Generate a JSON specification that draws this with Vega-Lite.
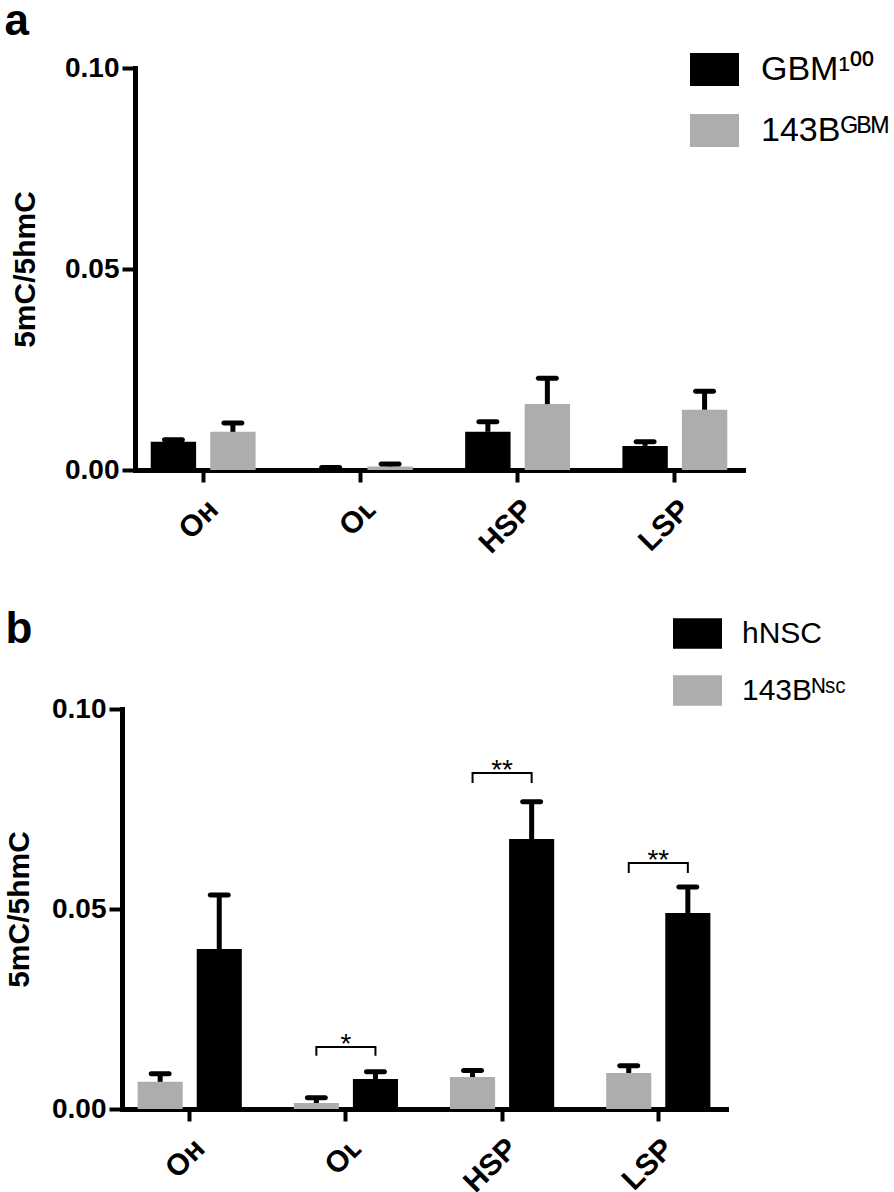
{
  "$schema": "https://vega.github.io/schema/vega-lite/v6.json",
  "padding": {"left": 4, "top": 0, "right": 0, "bottom": 0},
  "columns": 1,
  "center": true,
  "datasets": {
    "a": [
      {"cat": "Oʜ", "grp": "GBM¹⁰⁰", "mean": 0.0070, "upper": 0.0075},
      {"cat": "Oʜ", "grp": "143Bᴳᴮᴹ", "mean": 0.0095, "upper": 0.0117},
      {"cat": "Oʟ", "grp": "GBM¹⁰⁰", "mean": 0.0005, "upper": 0.0006},
      {"cat": "Oʟ", "grp": "143Bᴳᴮᴹ", "mean": 0.0009, "upper": 0.0015},
      {"cat": "HSP", "grp": "GBM¹⁰⁰", "mean": 0.0095, "upper": 0.0120},
      {"cat": "HSP", "grp": "143Bᴳᴮᴹ", "mean": 0.0164, "upper": 0.0228},
      {"cat": "LSP", "grp": "GBM¹⁰⁰", "mean": 0.0060, "upper": 0.0070},
      {"cat": "LSP", "grp": "143Bᴳᴮᴹ", "mean": 0.0150, "upper": 0.0196}
    ],
    "b": [
      {"cat": "Oʜ", "grp": "143Bᴺˢᶜ", "mean": 0.0068, "upper": 0.0088},
      {"cat": "Oʜ", "grp": "hNSC", "mean": 0.0400, "upper": 0.0535},
      {"cat": "Oʟ", "grp": "143Bᴺˢᶜ", "mean": 0.0015, "upper": 0.0028},
      {"cat": "Oʟ", "grp": "hNSC", "mean": 0.0075, "upper": 0.0093},
      {"cat": "HSP", "grp": "143Bᴺˢᶜ", "mean": 0.0080, "upper": 0.0096},
      {"cat": "HSP", "grp": "hNSC", "mean": 0.0675, "upper": 0.0768},
      {"cat": "LSP", "grp": "143Bᴺˢᶜ", "mean": 0.0090, "upper": 0.0108},
      {"cat": "LSP", "grp": "hNSC", "mean": 0.0490, "upper": 0.0555}
    ],
    "brackets": [
      {"cat": "Oʟ", "grp": "143Bᴺˢᶜ", "y": 0.0133, "ord": 1},
      {"cat": "Oʟ", "grp": "143Bᴺˢᶜ", "y": 0.0155, "ord": 2},
      {"cat": "Oʟ", "grp": "hNSC", "y": 0.0155, "ord": 3},
      {"cat": "Oʟ", "grp": "hNSC", "y": 0.0133, "ord": 4},
      {"cat": "HSP", "grp": "143Bᴺˢᶜ", "y": 0.0815, "ord": 1},
      {"cat": "HSP", "grp": "143Bᴺˢᶜ", "y": 0.0840, "ord": 2},
      {"cat": "HSP", "grp": "hNSC", "y": 0.0840, "ord": 3},
      {"cat": "HSP", "grp": "hNSC", "y": 0.0815, "ord": 4},
      {"cat": "LSP", "grp": "143Bᴺˢᶜ", "y": 0.0590, "ord": 1},
      {"cat": "LSP", "grp": "143Bᴺˢᶜ", "y": 0.0615, "ord": 2},
      {"cat": "LSP", "grp": "hNSC", "y": 0.0615, "ord": 3},
      {"cat": "LSP", "grp": "hNSC", "y": 0.0590, "ord": 4}
    ],
    "stars": [
      {"cat": "Oʟ", "label": "*", "y": 0.0155},
      {"cat": "HSP", "label": "**", "y": 0.0840},
      {"cat": "LSP", "label": "**", "y": 0.0615}
    ]
  },
  "config": {
    "font": "Liberation Sans",
    "view": {"stroke": null},
    "concat": {"spacing": -6},
    "axis": {
      "domainColor": "black", "domainWidth": 5, "domainCap": "square",
      "tickColor": "black", "tickWidth": 4, "grid": false,
      "labelColor": "black", "labelFontWeight": "bold",
      "titleColor": "black", "titleFontWeight": "bold", "titleFontSize": 30
    },
    "legend": {"labelColor": "black", "labelFont": "Liberation Sans"}
  },
  "resolve": {"scale": {"x": "independent", "xOffset": "independent", "y": "independent", "color": "independent"}},
  "concat": [
    {
      "title": {"text": "a", "anchor": "start", "frame": "bounds", "fontSize": 44, "fontWeight": "bold", "color": "black", "offset": 1, "dx": -6},
      "width": 608,
      "height": 402,
      "data": {"name": "a"},
      "layer": [
        {
          "mark": {"type": "bar"},
          "encoding": {
            "x": {"field": "cat", "type": "nominal", "sort": ["Oʜ", "Oʟ", "HSP", "LSP"], "title": null,
                  "scale": {"paddingInner": 0.333, "paddingOuter": 0.1},
                  "axis": {"labelAngle": -45, "tickSize": 12, "labelPadding": 12, "labelFontSize": 30}},
            "xOffset": {"field": "grp", "type": "nominal", "sort": ["GBM¹⁰⁰", "143Bᴳᴮᴹ"], "scale": {"paddingInner": 0.237, "paddingOuter": 0}},
            "y": {"field": "mean", "type": "quantitative", "title": "5mC/5hmC",
                  "scale": {"domain": [0, 0.1]},
                  "axis": {"values": [0, 0.05, 0.1], "format": ".2f", "tickSize": 13, "labelPadding": 3, "labelFontSize": 28, "titlePadding": 24}},
            "color": {"field": "grp", "type": "nominal",
                      "scale": {"domain": ["GBM¹⁰⁰", "143Bᴳᴮᴹ"], "range": ["#000000", "#adadad"]},
                      "legend": {"orient": "none", "legendX": 555, "legendY": -23, "title": null,
                                 "symbolType": "M-1,-0.67H1V0.67H-1Z", "symbolSize": 2401, "symbolStrokeWidth": 0,
                                 "labelFontSize": 34, "labelOffset": 22, "rowPadding": 19, "padding": 0}}
          }
        },
        {
          "mark": {"type": "rule", "strokeWidth": 5, "color": "black"},
          "encoding": {
            "x": {"field": "cat", "type": "nominal", "sort": ["Oʜ", "Oʟ", "HSP", "LSP"], "title": null},
            "xOffset": {"field": "grp", "type": "nominal", "sort": ["GBM¹⁰⁰", "143Bᴳᴮᴹ"]},
            "y": {"field": "mean", "type": "quantitative", "title": "5mC/5hmC"},
            "y2": {"field": "upper"}
          }
        },
        {
          "mark": {"type": "tick", "thickness": 5, "size": 23, "color": "black", "cornerRadius": 2.5, "opacity": 1},
          "encoding": {
            "x": {"field": "cat", "type": "nominal", "sort": ["Oʜ", "Oʟ", "HSP", "LSP"], "title": null},
            "xOffset": {"field": "grp", "type": "nominal", "sort": ["GBM¹⁰⁰", "143Bᴳᴮᴹ"]},
            "y": {"field": "upper", "type": "quantitative", "title": "5mC/5hmC"}
          }
        }
      ]
    },
    {
      "title": {"text": "b", "anchor": "start", "frame": "bounds", "fontSize": 44, "fontWeight": "bold", "color": "black", "offset": -99, "dx": 1},
      "width": 604,
      "height": 400,
      "layer": [
        {
          "data": {"name": "b"},
          "mark": {"type": "bar"},
          "encoding": {
            "x": {"field": "cat", "type": "nominal", "sort": ["Oʜ", "Oʟ", "HSP", "LSP"], "title": null,
                  "scale": {"paddingInner": 0.333, "paddingOuter": 0.1},
                  "axis": {"labelAngle": -45, "tickSize": 12, "labelPadding": 12, "labelFontSize": 30}},
            "xOffset": {"field": "grp", "type": "nominal", "sort": ["143Bᴺˢᶜ", "hNSC"], "scale": {"paddingInner": 0.237, "paddingOuter": 0}},
            "y": {"field": "mean", "type": "quantitative", "title": "5mC/5hmC",
                  "scale": {"domain": [0, 0.1]},
                  "axis": {"values": [0, 0.05, 0.1], "format": ".2f", "tickSize": 13, "labelPadding": 3, "labelFontSize": 28, "titlePadding": 17}},
            "color": {"field": "grp", "type": "nominal",
                      "scale": {"domain": ["hNSC", "143Bᴺˢᶜ"], "range": ["#000000", "#adadad"]},
                      "legend": {"orient": "none", "legendX": 495, "legendY": -156, "title": null,
                                 "symbolType": "M-1,-0.62H1V0.62H-1Z", "symbolSize": 2401, "symbolStrokeWidth": 0,
                                 "labelFontSize": 30, "labelOffset": 20, "rowPadding": 17, "padding": 56}}
          }
        },
        {
          "data": {"name": "b"},
          "mark": {"type": "rule", "strokeWidth": 5, "color": "black"},
          "encoding": {
            "x": {"field": "cat", "type": "nominal", "sort": ["Oʜ", "Oʟ", "HSP", "LSP"], "title": null},
            "xOffset": {"field": "grp", "type": "nominal", "sort": ["143Bᴺˢᶜ", "hNSC"]},
            "y": {"field": "mean", "type": "quantitative", "title": "5mC/5hmC"},
            "y2": {"field": "upper"}
          }
        },
        {
          "data": {"name": "b"},
          "mark": {"type": "tick", "thickness": 5, "size": 23, "color": "black", "cornerRadius": 2.5, "opacity": 1},
          "encoding": {
            "x": {"field": "cat", "type": "nominal", "sort": ["Oʜ", "Oʟ", "HSP", "LSP"], "title": null},
            "xOffset": {"field": "grp", "type": "nominal", "sort": ["143Bᴺˢᶜ", "hNSC"]},
            "y": {"field": "upper", "type": "quantitative", "title": "5mC/5hmC"}
          }
        },
        {
          "data": {"name": "brackets"},
          "mark": {"type": "line", "strokeWidth": 2, "color": "black"},
          "encoding": {
            "x": {"field": "cat", "type": "nominal", "sort": ["Oʜ", "Oʟ", "HSP", "LSP"], "title": null},
            "xOffset": {"field": "grp", "type": "nominal", "sort": ["143Bᴺˢᶜ", "hNSC"]},
            "y": {"field": "y", "type": "quantitative", "title": "5mC/5hmC"},
            "detail": {"field": "cat", "type": "nominal"},
            "order": {"field": "ord", "type": "quantitative"}
          }
        },
        {
          "data": {"name": "stars"},
          "mark": {"type": "text", "fontSize": 28, "baseline": "alphabetic", "dy": 6, "color": "black"},
          "encoding": {
            "x": {"field": "cat", "type": "nominal", "sort": ["Oʜ", "Oʟ", "HSP", "LSP"], "title": null},
            "y": {"field": "y", "type": "quantitative", "title": "5mC/5hmC"},
            "text": {"field": "label"}
          }
        }
      ]
    }
  ]
}
